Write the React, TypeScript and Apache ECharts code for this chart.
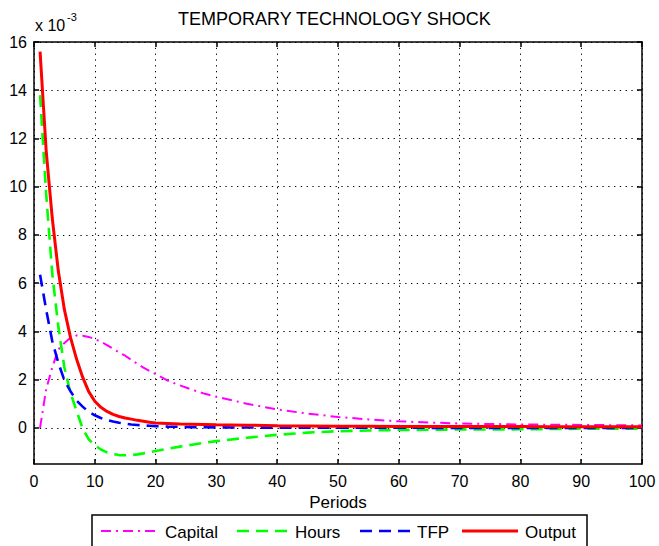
import React, { useEffect, useRef } from "react";
import * as echarts from "echarts";

// Impulse responses to a temporary technology shock (units of 1e-3)
const periods = [
  1, 2, 3, 4, 5, 6, 7, 8, 9, 10, 11, 12, 13, 14, 15, 16, 17, 18, 19, 20,
  22, 24, 26, 28, 30, 35, 40, 45, 50, 55, 60, 65, 70, 75, 80, 85, 90, 95, 100,
];
const capital = [
  0, 1.6, 2.5, 3.25, 3.52, 3.74, 3.83, 3.82, 3.77, 3.68, 3.57, 3.43, 3.28, 3.13, 2.99, 2.82, 2.66, 2.5, 2.36, 2.23,
  1.96, 1.76, 1.58, 1.42, 1.29, 1.0, 0.76, 0.59, 0.45, 0.35, 0.27, 0.22, 0.18, 0.16, 0.14, 0.13, 0.12, 0.11, 0.1,
];
const hours = [
  13.8, 9.7, 6.4, 4.2, 2.5, 1.45, 0.7, -0.02, -0.48, -0.72, -0.9, -1.02, -1.09, -1.13, -1.14, -1.13, -1.1, -1.06, -1.01, -0.96,
  -0.87, -0.78, -0.7, -0.62, -0.55, -0.41, -0.29, -0.2, -0.14, -0.11, -0.09, -0.08, -0.07, -0.07, -0.06, -0.05, -0.04, -0.04, -0.03,
];
const tfp = [
  6.35, 4.9, 3.6, 2.7, 1.97, 1.52, 1.13, 0.88, 0.66, 0.52, 0.41, 0.33, 0.26, 0.21, 0.17, 0.14, 0.12, 0.1, 0.085, 0.07,
  0.05, 0.04, 0.03, 0.025, 0.02, 0.012, 0.008, 0.005, 0.003, 0.002, 0.001, 0, 0, 0, 0, 0, 0, 0, 0,
];
const output = [
  15.6, 11.5, 8.7, 6.5, 4.9, 3.75, 2.85, 2.1, 1.5, 1.1, 0.85, 0.68, 0.56, 0.47, 0.41, 0.36, 0.31, 0.27, 0.23, 0.2,
  0.18, 0.16, 0.15, 0.14, 0.13, 0.11, 0.09, 0.08, 0.07, 0.07, 0.06, 0.06, 0.05, 0.05, 0.05, 0.04, 0.04, 0.04, 0.04,
];
const yTicks = [0, 2, 4, 6, 8, 10, 12, 14, 16];

const FONT = "'Liberation Sans', Arial, sans-serif";

const seriesDefs = [
  { name: "Capital", values: capital, color: "#ff00ff", width: 2, dash: [10, 5, 2, 5] as number[] | "solid" },
  { name: "Hours", values: hours, color: "#00ff00", width: 2.6, dash: [12, 7] as number[] | "solid" },
  { name: "TFP", values: tfp, color: "#0000ff", width: 2.6, dash: [12, 7] as number[] | "solid" },
  { name: "Output", values: output, color: "#ff0000", width: 3, dash: "solid" as number[] | "solid" },
];

// legend entries: line start/end and label x
const legendPos = [
  { x1: 101, x2: 160, tx: 165 },
  { x1: 237, x2: 290, tx: 295 },
  { x1: 360, x2: 411, tx: 417 },
  { x1: 462, x2: 518, tx: 525 },
];

const axisLineStyle = { color: "#000", width: 1.5 };
const gridLineStyle = { color: "#000", width: 1, type: [1.3, 4.5] as number[] };

export default function App() {
  const ref = useRef<HTMLDivElement>(null);

  useEffect(() => {
    if (!ref.current) return;
    const chart = echarts.init(ref.current, undefined, { renderer: "svg" });

    const legendGraphics: any[] = [
      {
        type: "rect",
        shape: { x: 92, y: 515, width: 495, height: 45 },
        style: { fill: "#fff", stroke: "#000", lineWidth: 1.5 },
        z: 10,
      },
    ];
    seriesDefs.forEach((s, i) => {
      const p = legendPos[i];
      legendGraphics.push({
        type: "line",
        shape: { x1: p.x1, y1: 531, x2: p.x2, y2: 531 },
        style: {
          stroke: s.color,
          lineWidth: s.width,
          lineDash: s.dash === "solid" ? null : s.dash,
        },
        z: 11,
      });
      legendGraphics.push({
        type: "text",
        x: p.tx,
        y: 532,
        style: {
          text: s.name,
          fontSize: 17,
          fontFamily: FONT,
          fill: "#000",
          verticalAlign: "middle",
          textAlign: "left",
        },
        z: 11,
      });
    });

    chart.setOption({
      animation: false,
      backgroundColor: "#fff",
      title: {
        text: "TEMPORARY TECHNOLOGY SHOCK",
        left: 178,
        top: 10,
        padding: 0,
        textStyle: { fontSize: 18, fontWeight: "normal", color: "#000", fontFamily: FONT },
      },
      grid: { left: 34, right: 17, top: 42, bottom: 82, containLabel: false },
      xAxis: [
        {
          type: "value",
          min: 0,
          max: 100,
          interval: 10,
          position: "bottom",
          name: "Periods",
          nameLocation: "middle",
          nameGap: 30,
          nameTextStyle: { fontSize: 17, color: "#000", fontFamily: FONT },
          axisLine: { show: true, onZero: false, lineStyle: axisLineStyle },
          axisTick: { show: true, inside: true, length: 5, lineStyle: axisLineStyle },
          axisLabel: { fontSize: 16, color: "#000", margin: 9, fontFamily: FONT },
          splitLine: { show: true, lineStyle: gridLineStyle },
        },
        {
          type: "value",
          min: 0,
          max: 100,
          interval: 10,
          position: "top",
          axisLine: { show: true, onZero: false, lineStyle: axisLineStyle },
          axisTick: { show: true, inside: true, length: 5, lineStyle: axisLineStyle },
          axisLabel: { show: false },
          splitLine: { show: false },
        },
      ],
      yAxis: [
        {
          type: "value",
          min: -1.5,
          max: 16,
          position: "left",
          axisLine: { show: true, onZero: false, lineStyle: axisLineStyle },
          axisTick: { show: true, inside: true, length: 5, lineStyle: axisLineStyle, customValues: yTicks },
          axisLabel: { fontSize: 16, color: "#000", margin: 7, fontFamily: FONT, customValues: yTicks },
          splitLine: { show: true, lineStyle: gridLineStyle },
        },
        {
          type: "value",
          min: -1.5,
          max: 16,
          position: "right",
          axisLine: { show: true, onZero: false, lineStyle: axisLineStyle },
          axisTick: { show: true, inside: true, length: 5, lineStyle: axisLineStyle, customValues: yTicks },
          axisLabel: { show: false, customValues: yTicks },
          splitLine: { show: false },
        },
      ],
      series: seriesDefs.map((s) => ({
        name: s.name,
        type: "line",
        xAxisIndex: 0,
        yAxisIndex: 0,
        symbol: "none",
        showSymbol: false,
        data: periods.map((p, i) => [p, s.values[i]]),
        lineStyle: { color: s.color, width: s.width, type: s.dash },
        itemStyle: { color: s.color },
      })),
      graphic: [
        {
          type: "text",
          x: 35,
          y: 25,
          style: { text: "x 10", fontSize: 16, fontFamily: FONT, fill: "#000", verticalAlign: "middle" },
        },
        {
          type: "text",
          x: 67,
          y: 17,
          style: { text: "-3", fontSize: 11, fontFamily: FONT, fill: "#000", verticalAlign: "middle" },
        },
        ...legendGraphics,
      ],
    });

    return () => chart.dispose();
  }, []);

  return (
    <div
      ref={ref}
      style={{ position: "fixed", left: 0, top: 0, width: 659, height: 546, background: "#fff" }}
    />
  );
}
